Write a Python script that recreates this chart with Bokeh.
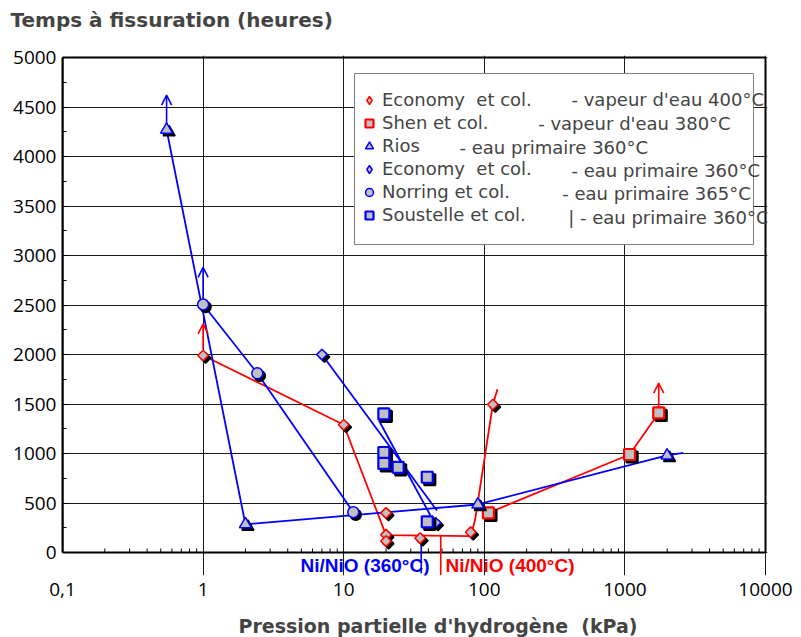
import numpy as np
from bokeh.plotting import figure
from bokeh.models import (FixedTicker, CustomJSTickFormatter, Arrow, OpenHead,
                          Label, BoxAnnotation, Legend, LegendItem, Range1d, Title)
from bokeh.embed import file_html
from bokeh.resources import INLINE

# ---------------- data ----------------
x_ticks = [0.1, 1, 10, 100, 1000, 10000]
x_tick_labels = ["0,1", "1", "10", "100", "1000", "10000"]
y_ticks = [0, 500, 1000, 1500, 2000, 2500, 3000, 3500, 4000, 4500, 5000]
y_tick_labels = ["0", "500", "1000", "1500", "2000", "2500", "3000", "3500", "4000", "4500", "5000"]

# Economy et col. - vapeur d'eau 400°C (red diamonds)
eco_vap_x = [1, 10, 20, 20, 20, 35, 80, 115]
eco_vap_y = [1990, 1290, 400, 180, 115, 145, 205, 1495]
eco_vap_line_x = [1, 10, 20, 80, 86, 115, 124]
eco_vap_line_y = [1990, 1290, 175, 165, 330, 1495, 1650]

# Shen et col. - vapeur d'eau 380°C (red squares)
shen_x = [107, 1080, 1740]
shen_y = [400, 990, 1410]

# Rios - eau primaire 360°C (blue triangles)
rios_x = [0.55, 2, 90, 1995]
rios_y = [4270, 285, 485, 980]
rios_line_x = [0.55, 2, 90, 1995, 2600]
rios_line_y = [4270, 285, 485, 980, 1007]

# Economy et col. - eau primaire 360°C (blue diamonds)
eco_eau_x = [7, 45]
eco_eau_y = [2000, 300]
eco_eau_line_x = [7, 46]
eco_eau_line_y = [2000, 424]

# Norring et col. - eau primaire 365°C (blue circles)
norring_x = [1, 2.43, 11.7]
norring_y = [2505, 1810, 407]

# Soustelle et col. - eau primaire 360°C (blue squares)
soustelle_x = [19.3, 19.3, 19.3, 24.4, 39.3, 39.3]
soustelle_y = [1400, 1010, 900, 860, 760, 310]
soustelle_line_x = [17.8, 41.4]
soustelle_line_y = [1333, 374]

# lower-bound arrows (x, start y, end y, colour)
arrow_x = [0.55, 1, 1, 1740]
arrow_y0 = [4330, 2565, 2050, 1468]
arrow_y1 = [4620, 2880, 2310, 1710]
arrow_colors = ["#0000ff", "#0000ff", "#ff0000", "#ff0000"]

# Ni/NiO equilibrium markers
ninio_x = [35.6, 49]
ninio_y0 = [170, 170]
ninio_y1 = [-210, -230]
ninio_text = ["Ni/NiO (360°C)", "Ni/NiO (400°C)"]
ninio_colors = ["#0000ff", "#ff0000"]

legend_names = ["Economy\u00a0 et col.", "Shen et col.", "Rios",
                "Economy\u00a0 et col.", "Norring et col.", "Soustelle et col."]
legend_conds = ["- vapeur d'eau 400°C", "- vapeur d'eau 380°C", "- eau primaire 360°C",
                "- eau primaire 360°C", "- eau primaire 365°C", "| - eau primaire 360°C"]

y_title = "Temps à fissuration (heures)"
x_title = "Pression partielle d'hydrogène\u00a0 (kPa)"

# ---------------- layout ----------------
PX_DEC = 140.6                 # pixels per decade
PX_Y = 5000 / 495              # data units per pixel (y)
BLUE, RED, GREY = "#0000ff", "#ff0000", "#c0c0c0"

p = figure(x_axis_type="log",
           x_range=Range1d(0.1, 10 ** (4 + 2 / PX_DEC)),
           y_range=Range1d(-23 * PX_Y, 5000 + 2 * PX_Y),
           frame_width=705, frame_height=520, title=None,
           min_border_left=62, min_border_right=30, min_border_top=55, min_border_bottom=61,
           output_backend="svg", toolbar_location=None,
           background_fill_color="white", border_fill_color="white")
p.outline_line_color = None

# axes
p.xaxis.ticker = FixedTicker(ticks=x_ticks)
p.xaxis.formatter = CustomJSTickFormatter(args=dict(xt=x_ticks, xl=x_tick_labels), code="""
    for (let i = 0; i < xt.length; i++) {
        if (Math.abs(Math.log10(xt[i]) - Math.log10(tick)) < 1e-6) return xl[i];
    }
    return "";
""")
p.xaxis.axis_line_color = None
p.xaxis.major_tick_line_color = None
p.xaxis.minor_tick_line_color = None
p.xaxis.major_label_standoff = 1

p.yaxis.ticker = FixedTicker(ticks=y_ticks, minor_ticks=[v + 250 for v in y_ticks[:-1]])
p.yaxis.formatter = CustomJSTickFormatter(args=dict(yt=y_ticks, yl=y_tick_labels), code="""
    const i = yt.indexOf(tick);
    return i >= 0 ? yl[i] : "";
""")
p.yaxis.bounds = (0, 5000)
p.yaxis.axis_line_color = "black"
p.yaxis.axis_line_width = 2
p.yaxis.major_tick_in = 6
p.yaxis.major_tick_out = 0
p.yaxis.minor_tick_in = 4
p.yaxis.minor_tick_out = 0
p.yaxis.major_tick_line_color = "black"
p.yaxis.minor_tick_line_color = "black"
p.yaxis.major_label_standoff = 6
for ax in (p.xaxis[0], p.yaxis[0]):
    ax.major_label_text_font = "Open Sans"
    ax.major_label_text_font_size = "19px"
    ax.major_label_text_color = "black"

p.xgrid.ticker = FixedTicker(ticks=x_ticks)
p.ygrid.ticker = FixedTicker(ticks=y_ticks)
p.xgrid.bounds = (0, 5000)
for g in (p.xgrid[0], p.ygrid[0]):
    g.grid_line_color = "#1a1a1a"
    g.grid_line_width = 1

# plot box (x axis line at 0, top and right edges)
p.add_layout(BoxAnnotation(left=0.1, right=10000, bottom=0, top=5000, fill_alpha=0,
                           line_color="black", line_width=2, line_alpha=1, level="underlay"))
# x minor ticks (inside, on the y = 0 line)
x_minor = [m * t for t in x_ticks[:-1] for m in range(2, 10)]
p.segment(x0=x_minor, y0=[0] * len(x_minor), x1=x_minor, y1=[4 * PX_Y] * len(x_minor),
          line_color="black", line_width=1)

# ---------------- series ----------------
shx = 10 ** (2.5 / PX_DEC)
shy = 2.5 * PX_Y

# lines
p.line(eco_vap_line_x, eco_vap_line_y, line_color=RED, line_width=1.8)
p.line(shen_x, shen_y, line_color=RED, line_width=1.8)
p.line(rios_line_x, rios_line_y, line_color=BLUE, line_width=1.8)
p.line(eco_eau_line_x, eco_eau_line_y, line_color=BLUE, line_width=1.8)
p.line(norring_x, norring_y, line_color=BLUE, line_width=1.8)
p.line(soustelle_line_x, soustelle_line_y, line_color=BLUE, line_width=1.8)
p.segment(x0=ninio_x, y0=ninio_y0, x1=ninio_x, y1=ninio_y1, line_color=ninio_colors, line_width=1.6)

# legend glyphs for the diamond series (drawn underneath the real markers;
# the legend ignores marker angle, so these use Bokeh's "diamond")
lg_eco_vap = p.scatter(eco_vap_x, eco_vap_y, marker="diamond", size=9, fill_color=GREY,
                       line_color=RED, line_width=1.5)
lg_eco_eau = p.scatter(eco_eau_x, eco_eau_y, marker="diamond", size=9, fill_color=GREY,
                       line_color=BLUE, line_width=1.5)


def series(xs, ys, marker, size, color, lw, angle=0.0):
    sx = [x * shx for x in xs]
    sy = [y - shy for y in ys]
    p.scatter(sx, sy, marker=marker, size=size, angle=angle, fill_color="black",
              line_color="black", line_width=lw)
    return p.scatter(xs, ys, marker=marker, size=size, angle=angle, fill_color=GREY,
                     line_color=color, line_width=lw)


r_eco_vap = series(eco_vap_x, eco_vap_y, "square", 7.5, RED, 1.5, np.pi / 4)
r_shen = series(shen_x, shen_y, "square", 11, RED, 2.2)
r_rios = series(rios_x, rios_y, "triangle", 12, BLUE, 1.5)
r_eco_eau = series(eco_eau_x, eco_eau_y, "square", 7.5, BLUE, 1.5, np.pi / 4)
r_norring = series(norring_x, norring_y, "circle", 11, BLUE, 1.5)
r_soustelle = series(soustelle_x, soustelle_y, "square", 11, BLUE, 2.2)

# arrows
for x, y0, y1, c in zip(arrow_x, arrow_y0, arrow_y1, arrow_colors):
    p.add_layout(Arrow(x_start=x, y_start=y0, x_end=x, y_end=y1, line_color=c, line_width=1.6,
                       end=OpenHead(size=10, line_color=c, line_width=1.6)))

# Ni/NiO labels
p.add_layout(Label(x=367, y=10, x_units="screen", y_units="screen", text=ninio_text[0],
                   text_color=ninio_colors[0], text_font="Liberation Sans", text_font_style="bold",
                   text_font_size="19px", text_align="right", text_baseline="middle"))
p.add_layout(Label(x=383, y=10, x_units="screen", y_units="screen", text=ninio_text[1],
                   text_color=ninio_colors[1], text_font="Liberation Sans", text_font_style="bold",
                   text_font_size="19px", text_align="left", text_baseline="middle"))

# titles (side panels)
p.add_layout(Title(text="\u00a0", text_font_size="12px", standoff=6), "above")
p.add_layout(Title(text=y_title, align="left", offset=-52, vertical_align="top", standoff=0,
                   text_font="DejaVu Sans", text_font_style="bold", text_font_size="20px"), "above")
p.add_layout(Title(text="\u00a0", text_font_size="8px", standoff=5), "below")
p.add_layout(Title(text=x_title, align="left", offset=176, vertical_align="top", standoff=0,
                   text_font="DejaVu Sans", text_font_style="bold", text_font_size="19px"), "below")

# legend box
p.add_layout(BoxAnnotation(left=292, right=691, top=502, bottom=331,
                           left_units="screen", right_units="screen",
                           top_units="screen", bottom_units="screen",
                           fill_color="white", fill_alpha=1, line_color="#808080",
                           line_width=1, line_alpha=1))
legend = Legend(items=[LegendItem(label=n, renderers=[r]) for n, r in
                       zip(legend_names, [lg_eco_vap, r_shen, r_rios, lg_eco_eau, r_norring, r_soustelle])],
                location=(297, 350), glyph_width=20, glyph_height=20, label_standoff=3,
                padding=0, spacing=2, margin=0, label_height=20,
                label_text_font="DejaVu Sans", label_text_font_size="18px",
                background_fill_alpha=0, border_line_alpha=0)
p.add_layout(legend)

row_y = [475.7, 452.3, 428.3, 405, 381.7, 358.3]
row_x = [509, 475.7, 397, 509, 499.7, 505.7]
for tx, ty, t in zip(row_x, row_y, legend_conds):
    p.add_layout(Label(x=tx, y=ty, x_units="screen", y_units="screen", text=t,
                       text_font="DejaVu Sans", text_font_size="18px",
                       text_align="left", text_baseline="middle"))

open("out.html", "w").write(file_html(p, INLINE))
